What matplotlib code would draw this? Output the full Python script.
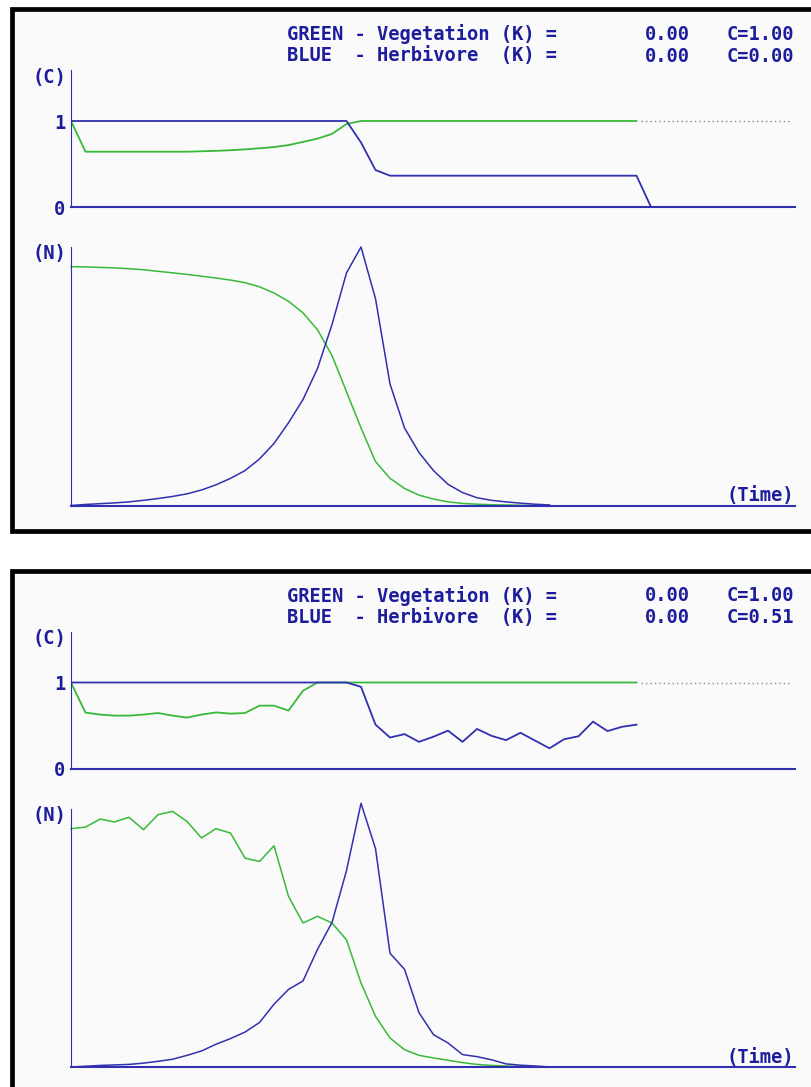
import matplotlib
matplotlib.use('Agg')
import matplotlib.pyplot as plt
from matplotlib.patches import Rectangle

# ---- data (time steps) ----
steps_c = list(range(40))          # C series, t = 0..39
steps_c_herb_top = list(range(41))  # blue C of first run drops to 0 at t = 40
steps_n = list(range(34))          # N series, t = 0..33

# run 1 (upper screen)
c_veg_1 = [1.0, 0.643, 0.643, 0.643, 0.643, 0.643, 0.643, 0.643, 0.643, 0.648,
           0.653, 0.66, 0.67, 0.683, 0.697, 0.72, 0.757, 0.795, 0.85, 0.965,
           1.0, 1.0, 1.0, 1.0, 1.0, 1.0, 1.0, 1.0, 1.0, 1.0,
           1.0, 1.0, 1.0, 1.0, 1.0, 1.0, 1.0, 1.0, 1.0, 1.0]
c_herb_1 = [1.0, 1.0, 1.0, 1.0, 1.0, 1.0, 1.0, 1.0, 1.0, 1.0,
            1.0, 1.0, 1.0, 1.0, 1.0, 1.0, 1.0, 1.0, 1.0, 1.0,
            0.75, 0.43, 0.364, 0.364, 0.364, 0.364, 0.364, 0.364, 0.364, 0.364,
            0.364, 0.364, 0.364, 0.364, 0.364, 0.364, 0.364, 0.364, 0.364, 0.364,
            0.0]
n_veg_1 = [0.924, 0.923, 0.921, 0.919, 0.916, 0.912, 0.906, 0.90, 0.894, 0.887,
           0.88, 0.872, 0.862, 0.846, 0.822, 0.79, 0.745, 0.68, 0.58, 0.44,
           0.30, 0.17, 0.105, 0.066, 0.04, 0.025, 0.014, 0.008, 0.005, 0.003,
           0.002, 0.001, 0.0, 0.0]
n_herb_1 = [0.0, 0.004, 0.007, 0.01, 0.014, 0.02, 0.027, 0.035, 0.045, 0.06,
            0.08, 0.105, 0.135, 0.18, 0.24, 0.32, 0.41, 0.53, 0.70, 0.90,
            1.0, 0.80, 0.47, 0.30, 0.205, 0.135, 0.082, 0.05, 0.03, 0.02,
            0.014, 0.009, 0.005, 0.002]

# run 2 (lower screen)
c_veg_2 = [1.0, 0.65, 0.627, 0.615, 0.615, 0.627, 0.645, 0.615, 0.592, 0.627,
           0.652, 0.638, 0.645, 0.731, 0.731, 0.673, 0.904, 1.0, 1.0, 1.0,
           1.0, 1.0, 1.0, 1.0, 1.0, 1.0, 1.0, 1.0, 1.0, 1.0,
           1.0, 1.0, 1.0, 1.0, 1.0, 1.0, 1.0, 1.0, 1.0, 1.0]
c_herb_2 = [1.0, 1.0, 1.0, 1.0, 1.0, 1.0, 1.0, 1.0, 1.0, 1.0,
            1.0, 1.0, 1.0, 1.0, 1.0, 1.0, 1.0, 1.0, 1.0, 1.0,
            0.95, 0.51, 0.36, 0.40, 0.31, 0.37, 0.44, 0.31, 0.46, 0.38,
            0.33, 0.415, 0.325, 0.235, 0.34, 0.375, 0.545, 0.435, 0.485, 0.51]
n_veg_2 = [0.922, 0.928, 0.959, 0.948, 0.966, 0.918, 0.976, 0.989, 0.95, 0.886,
           0.922, 0.905, 0.808, 0.795, 0.856, 0.66, 0.557, 0.583, 0.557, 0.492,
           0.325, 0.196, 0.112, 0.067, 0.045, 0.035, 0.026, 0.017, 0.01, 0.006,
           0.004, 0.002, 0.001, 0.0]
n_herb_2 = [0.0, 0.003, 0.006, 0.008, 0.01, 0.015, 0.022, 0.03, 0.045, 0.062,
            0.088, 0.11, 0.135, 0.172, 0.243, 0.30, 0.333, 0.455, 0.559, 0.76,
            1.02, 0.845, 0.44, 0.378, 0.21, 0.125, 0.093, 0.048, 0.04, 0.028,
            0.012, 0.007, 0.004, 0.0]

k_veg = 0.00
k_herb = 0.00
ref_span = [39.3, 49.5]   # dotted C=1 reference after the run ends
t_max = 49.93

# ---- style ----
W, H = 811, 1087
GREEN = '#38b938'
BLUE = '#3030b0'
TEXT = '#1c1c9c'
FONT = dict(family='DejaVu Sans Mono', weight='bold', size=13.5, color=TEXT)

fig = plt.figure(figsize=(W / 100, H / 100), dpi=100)


def fx(x):
    return x / W


def fy(y):
    return 1 - y / H


def panel(off, c_veg, c_herb, t_herb, n_veg, n_herb):
    # black screen frame
    fig.patches.append(Rectangle((fx(12), fy(531 + off)), fx(820 - 12), (531 - 9.5) / H,
                                 transform=fig.transFigure, facecolor='#fafafa',
                                 edgecolor='black', linewidth=3.4, zorder=-1))

    # header
    for row, (name, c_last, k) in enumerate([('GREEN - Vegetation (K) =', c_veg[-1], k_veg),
                                             ('BLUE  - Herbivore  (K) =', c_herb[-1], k_herb)]):
        y = fy(34 + 22 * row + off)
        fig.text(fx(287), y, name, ha='left', va='center', **FONT)
        fig.text(fx(645), y, f'{k:.2f}', ha='left', va='center', **FONT)
        fig.text(fx(727), y, f'C={c_last:.2f}', ha='left', va='center', **FONT)

    # C axes
    ax_c = fig.add_axes([fx(71), fy(207 + off), 724 / W, 137 / H])
    ax_c.set_facecolor('none')
    ax_c.plot(steps_c, c_veg, color=GREEN, lw=1.3)
    ax_c.plot(t_herb, c_herb, color=BLUE, lw=1.3)
    ax_c.plot(ref_span, [1, 1], color='#8a8a8a', lw=1, ls=(0, (1, 2.2)))
    ax_c.set_xlim(0, t_max)
    ax_c.set_ylim(0, 137 / 86)
    ax_c.set_xticks([])
    ax_c.set_yticks([0, 1])
    ax_c.set_yticklabels(['0', '1'], **FONT)
    ax_c.tick_params(axis='y', length=0, pad=4)
    fig.text(fx(66), fy(77 + off), '(C)', ha='right', va='center', **FONT)

    # N axes
    ax_n = fig.add_axes([fx(71), fy(505.5 + off), 724 / W, 258.5 / H])
    ax_n.set_facecolor('none')
    ax_n.plot(steps_n, n_veg, color=GREEN, lw=1.1, clip_on=False)
    ax_n.plot(steps_n, n_herb, color=BLUE, lw=1.1, clip_on=False)
    ax_n.set_xlim(0, t_max)
    ax_n.set_ylim(0, 1)
    ax_n.set_xticks([])
    ax_n.set_yticks([])
    fig.text(fx(66), fy(254 + off), '(N)', ha='right', va='center', **FONT)
    fig.text(fx(794), fy(495.5 + off), '(Time)', ha='right', va='center', **FONT)

    for ax in (ax_c, ax_n):
        for side in ('top', 'right'):
            ax.spines[side].set_visible(False)
        ax.spines['left'].set_color(BLUE)
        ax.spines['left'].set_linewidth(0.8)
        ax.spines['bottom'].set_color(BLUE)
        ax.spines['bottom'].set_linewidth(1.5)


panel(0, c_veg_1, c_herb_1, steps_c_herb_top, n_veg_1, n_herb_1)
panel(561.5, c_veg_2, c_herb_2, steps_c, n_veg_2, n_herb_2)

fig.savefig('out.png', dpi=100, facecolor='white')
